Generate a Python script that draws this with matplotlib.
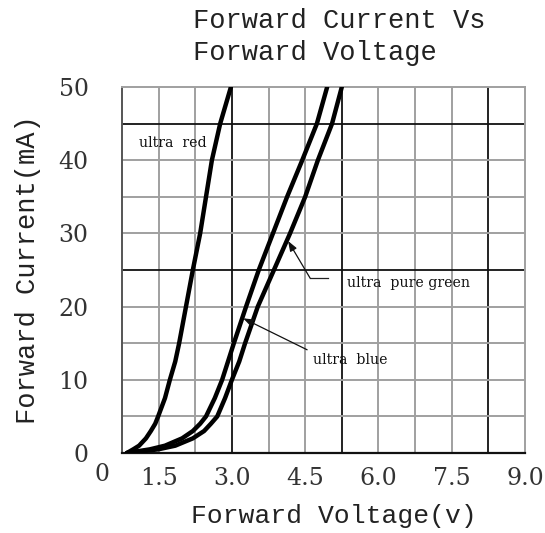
import matplotlib
matplotlib.use("Agg")
import matplotlib.pyplot as plt

# ---- data ----
current_ma = [0, 0.5, 1, 2, 3, 4, 5, 7.5, 10, 12.5, 15, 20, 25, 30, 35, 40, 45, 50]
ultra_red_v = [0.85, 0.98, 1.10, 1.24, 1.34, 1.43, 1.49, 1.63, 1.73, 1.84, 1.92,
               2.06, 2.20, 2.35, 2.47, 2.59, 2.76, 2.98]
ultra_blue_v = [0.85, 1.32, 1.63, 1.98, 2.20, 2.35, 2.47, 2.65, 2.80, 2.92, 3.04,
                3.29, 3.55, 3.84, 4.13, 4.44, 4.74, 4.95]
ultra_green_v = [0.85, 1.49, 1.84, 2.20, 2.43, 2.57, 2.70, 2.86, 3.00, 3.15, 3.27,
                 3.53, 3.86, 4.19, 4.50, 4.76, 5.05, 5.25]

x_ticks = [1.5, 3.0, 4.5, 6.0, 7.5, 9.0]
x_tick_labels = ["1.5", "3.0", "4.5", "6.0", "7.5", "9.0"]
y_ticks = [0, 10, 20, 30, 40, 50]
y_tick_labels = ["0", "10", "20", "30", "40", "50"]
x_grid = [0.75 + 0.75 * i for i in range(1, 11)]
x_grid_dark = [3.0, 5.25, 8.25]
y_grid = [5, 10, 15, 20, 25, 30, 35, 40, 45]
y_grid_dark = [25, 45]

MONO = "Liberation Mono"
TICKF = "DejaVu Serif"
NOTEF = "DejaVu Serif"
TXT = "#222222"

fig = plt.figure(figsize=(5.45, 5.33), dpi=100)
ax = fig.add_axes([122 / 545, 80 / 533, 403 / 545, 366 / 533])
ax.set_xlim(0.75, 9.0)
ax.set_ylim(0, 50)

for xv in x_grid:
    dark = any(abs(xv - d) < 1e-6 for d in x_grid_dark)
    ax.axvline(xv, color="#111111" if dark else "#a0a0a0", lw=1.3 if dark else 1.4, zorder=1)
for yv in y_grid:
    dark = yv in y_grid_dark
    ax.axhline(yv, color="#111111" if dark else "#a0a0a0", lw=1.3 if dark else 1.4, zorder=1)

for sp in ["top", "right"]:
    ax.spines[sp].set_color("#a0a0a0")
    ax.spines[sp].set_linewidth(1.4)
ax.spines["left"].set_color("#555555")
ax.spines["left"].set_linewidth(1.4)
ax.spines["bottom"].set_color("#111111")
ax.spines["bottom"].set_linewidth(1.6)

for volts in (ultra_red_v, ultra_blue_v, ultra_green_v):
    ax.plot(volts, current_ma, color="black", lw=3.2, solid_capstyle="round",
            solid_joinstyle="round", zorder=3)

ax.set_xticks(x_ticks)
ax.set_xticklabels(x_tick_labels, family=TICKF, fontsize=17, color="#333333")
ax.set_yticks(y_ticks)
ax.set_yticklabels(y_tick_labels, family=TICKF, fontsize=17, color="#333333")
ax.tick_params(axis="x", length=0, pad=10)
ax.tick_params(axis="y", length=0, pad=24)
ax.text(-0.05, -0.06, "0", transform=ax.transAxes, family=TICKF, fontsize=17,
        color="#333333", ha="center", va="center")

ax.set_xlabel("Forward Voltage(v)", family=MONO, fontsize=19, color=TXT)
ax.xaxis.set_label_coords(0.526, -0.14)
ax.set_ylabel("Forward Current(mA)", family=MONO, fontsize=19.5, color=TXT)
ax.yaxis.set_label_coords(-0.20, 0.5)

fig.text(193 / 545, 1 - 21 / 533, "Forward Current Vs", family=MONO, fontsize=19.5,
         color=TXT, ha="left", va="center")
fig.text(193 / 545, 1 - 53 / 533, "Forward Voltage", family=MONO, fontsize=19.5,
         color=TXT, ha="left", va="center")

ax.text(1.10, 42.3, "ultra  red", family=NOTEF, fontsize=10.2, color="#111111",
        ha="left", va="center")
ax.text(5.36, 23.2, "ultra  pure green", family=NOTEF, fontsize=10.2, color="#111111",
        ha="left", va="center")
ax.text(4.66, 12.7, "ultra  blue", family=NOTEF, fontsize=10.2, color="#111111",
        ha="left", va="center")

ax.plot([4.97, 4.60], [23.9, 23.9], color="#222222", lw=0.9, zorder=4)
ax.annotate("", xy=(4.15, 28.96), xytext=(4.60, 23.9),
            arrowprops=dict(arrowstyle="-|>,head_length=0.6,head_width=0.22",
                            color="#111111", lw=0.9, shrinkA=0, shrinkB=0), zorder=4)
ax.annotate("", xy=(3.23, 18.4), xytext=(4.54, 14.1),
            arrowprops=dict(arrowstyle="-|>,head_length=0.6,head_width=0.22",
                            color="#111111", lw=0.9, shrinkA=0, shrinkB=0), zorder=4)

fig.savefig("out.png", dpi=100)
